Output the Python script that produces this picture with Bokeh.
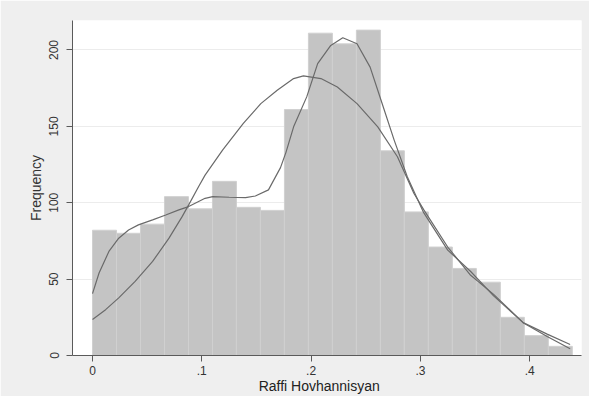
from bokeh.plotting import figure
from bokeh.models import Range1d, FixedTicker
from bokeh.embed import file_html
from bokeh.resources import INLINE

# ---- data ----
bin_width = 0.02195
bin_starts = [i * bin_width for i in range(20)]
counts = [82, 80, 86, 104, 96, 114, 97, 95, 161, 211, 204, 213, 134, 94, 71, 57, 48, 25, 13, 6]

kde_x = [0.000, 0.006, 0.015, 0.024, 0.033, 0.042, 0.055, 0.067, 0.079, 0.088, 0.103, 0.110,
         0.125, 0.140, 0.149, 0.161, 0.172, 0.177, 0.184, 0.196, 0.206, 0.218, 0.229, 0.242,
         0.254, 0.264, 0.276, 0.288, 0.303, 0.325, 0.346, 0.367, 0.394, 0.416, 0.437]
kde_y = [40.5, 54.0, 68.1, 76.8, 82.2, 85.5, 88.8, 92.0, 95.3, 97.5, 102.9, 104.0,
         103.6, 103.3, 104.4, 108.4, 123.0, 133.0, 149.7, 169.3, 191.1, 203.0, 208.0, 204.1,
         188.8, 167.1, 141.0, 117.0, 93.5, 69.0, 55.0, 39.0, 21.5, 12.5, 4.4]

smooth_x = [0.000, 0.012, 0.024, 0.039, 0.055, 0.070, 0.082, 0.088, 0.097, 0.103, 0.119,
            0.138, 0.154, 0.169, 0.184, 0.193, 0.209, 0.224, 0.242, 0.261, 0.279, 0.294,
            0.303, 0.325, 0.346, 0.367, 0.394, 0.416, 0.437]
smooth_y = [23.5, 30.0, 37.7, 48.5, 61.6, 76.8, 90.9, 98.6, 110.5, 118.1, 134.5,
            151.9, 164.9, 173.6, 181.3, 183.1, 181.3, 175.8, 164.9, 149.7, 130.1, 106.2,
            95.5, 71.0, 52.5, 40.0, 21.5, 14.0, 7.2]

x_ticks = [0, 0.1, 0.2, 0.3, 0.4]
x_tick_labels = ["0", ".1", ".2", ".3", ".4"]
y_ticks = [0, 50, 100, 150, 200]
x_title = "Raffi Hovhannisyan"
y_title = "Frequency"

# ---- geometry ----
W, H = 589, 396
FL, FR, FT, FB = 72, 581, 20, 356
X0, X1 = -0.0183, 0.4474
Y0, Y1 = 0.0, 219.3

FONT = "Liberation Sans"
OUTER = "#efefef"

p = figure(width=W, height=H, output_backend="svg", toolbar_location=None,
           x_range=Range1d(X0, X1), y_range=Range1d(Y0, Y1),
           min_border_left=FL, min_border_right=W - FR,
           min_border_top=FT, min_border_bottom=H - FB)
p.border_fill_color = OUTER
p.background_fill_color = "white"
p.outline_line_color = None

# histogram
p.quad(left=bin_starts, right=[s + bin_width for s in bin_starts],
       bottom=0, top=counts, fill_color="#c4c4c4", line_color="#d0d0d0", line_width=1)

# curves
p.line(smooth_x, smooth_y, line_color="#6a6a6a", line_width=1.2)
p.line(kde_x, kde_y, line_color="#6a6a6a", line_width=1.2)

# axes
p.xgrid.visible = False
p.ygrid.grid_line_color = "#ececec"
p.ygrid.grid_line_width = 1
p.ygrid.ticker = FixedTicker(ticks=y_ticks)

p.xaxis.ticker = FixedTicker(ticks=x_ticks)
p.xaxis.major_label_overrides = {t: s for t, s in zip(x_ticks, x_tick_labels)}
p.yaxis.ticker = FixedTicker(ticks=y_ticks)
p.yaxis.major_label_orientation = "vertical"

for ax in (p.xaxis, p.yaxis):
    ax.axis_line_color = "#5a5a5a"
    ax.major_tick_line_color = "#5a5a5a"
    ax.major_tick_out = 6
    ax.major_tick_in = 0
    ax.minor_tick_line_color = None
    ax.major_label_text_font = FONT
    ax.major_label_text_font_size = "12px"
    ax.major_label_text_color = "#333333"
    ax.axis_label_text_font = FONT
    ax.axis_label_text_font_style = "normal"

p.xaxis.major_label_standoff = 4
p.yaxis.major_label_standoff = 8
p.yaxis.axis_label = y_title
p.yaxis.axis_label_text_font_size = "14px"
p.yaxis.axis_label_text_color = "#333333"
p.yaxis.axis_label_standoff = 3

# x title sits a little left of the frame centre: pad with no-break spaces
p.xaxis.axis_label = x_title + "\u00a0" * 4
p.xaxis.axis_label_text_font_size = "14px"
p.xaxis.axis_label_text_color = "#222222"
p.xaxis.axis_label_standoff = 0

open("out.html", "w").write(file_html(p, INLINE))
